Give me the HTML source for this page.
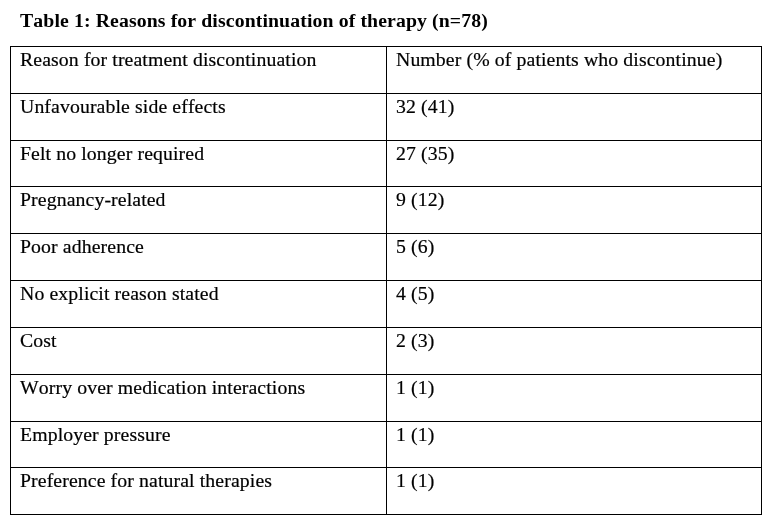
<!DOCTYPE html>
<html><head><meta charset="utf-8"><title>Table 1</title>
<style>
html,body{margin:0;padding:0;background:#fff;}
body{width:777px;height:530px;position:relative;overflow:hidden;font-family:"Liberation Serif",serif;font-size:19.75px;letter-spacing:0.115px;color:#000;font-kerning:none;}
.h,.v{position:absolute;background:#000;}
.h{height:1px;left:10px;width:752px;}
.v{width:1px;top:46px;height:469px;}
.t{position:absolute;white-space:nowrap;line-height:20px;height:20px;will-change:transform;}
.b{font-weight:bold;}
.r{-webkit-text-stroke:0.2px #000;}
</style></head><body>
<div class="t b" style="left:19.6px;top:10px">Table 1: Reasons for discontinuation of therapy (n=78)</div>
<div class="h" style="top:46px"></div>
<div class="h" style="top:93px"></div>
<div class="h" style="top:140px"></div>
<div class="h" style="top:186px"></div>
<div class="h" style="top:233px"></div>
<div class="h" style="top:280px"></div>
<div class="h" style="top:327px"></div>
<div class="h" style="top:374px"></div>
<div class="h" style="top:421px"></div>
<div class="h" style="top:467px"></div>
<div class="h" style="top:514px"></div>
<div class="v" style="left:10px"></div>
<div class="v" style="left:386px"></div>
<div class="v" style="left:761px"></div>
<div class="t r" style="left:19.6px;top:49px">Reason for treatment discontinuation</div>
<div class="t r" style="left:395.6px;top:49px">Number (% of patients who discontinue)</div>
<div class="t r" style="left:19.6px;top:96px">Unfavourable side effects</div>
<div class="t r" style="left:395.6px;top:96px">32 (41)</div>
<div class="t r" style="left:19.6px;top:143px">Felt no longer required</div>
<div class="t r" style="left:395.6px;top:143px">27 (35)</div>
<div class="t r" style="left:19.6px;top:189px">Pregnancy-related</div>
<div class="t r" style="left:395.6px;top:189px">9 (12)</div>
<div class="t r" style="left:19.6px;top:236px">Poor adherence</div>
<div class="t r" style="left:395.6px;top:236px">5 (6)</div>
<div class="t r" style="left:19.6px;top:283px">No explicit reason stated</div>
<div class="t r" style="left:395.6px;top:283px">4 (5)</div>
<div class="t r" style="left:19.6px;top:330px">Cost</div>
<div class="t r" style="left:395.6px;top:330px">2 (3)</div>
<div class="t r" style="left:19.6px;top:377px">Worry over medication interactions</div>
<div class="t r" style="left:395.6px;top:377px">1 (1)</div>
<div class="t r" style="left:19.6px;top:424px">Employer pressure</div>
<div class="t r" style="left:395.6px;top:424px">1 (1)</div>
<div class="t r" style="left:19.6px;top:470px">Preference for natural therapies</div>
<div class="t r" style="left:395.6px;top:470px">1 (1)</div>
</body></html>
